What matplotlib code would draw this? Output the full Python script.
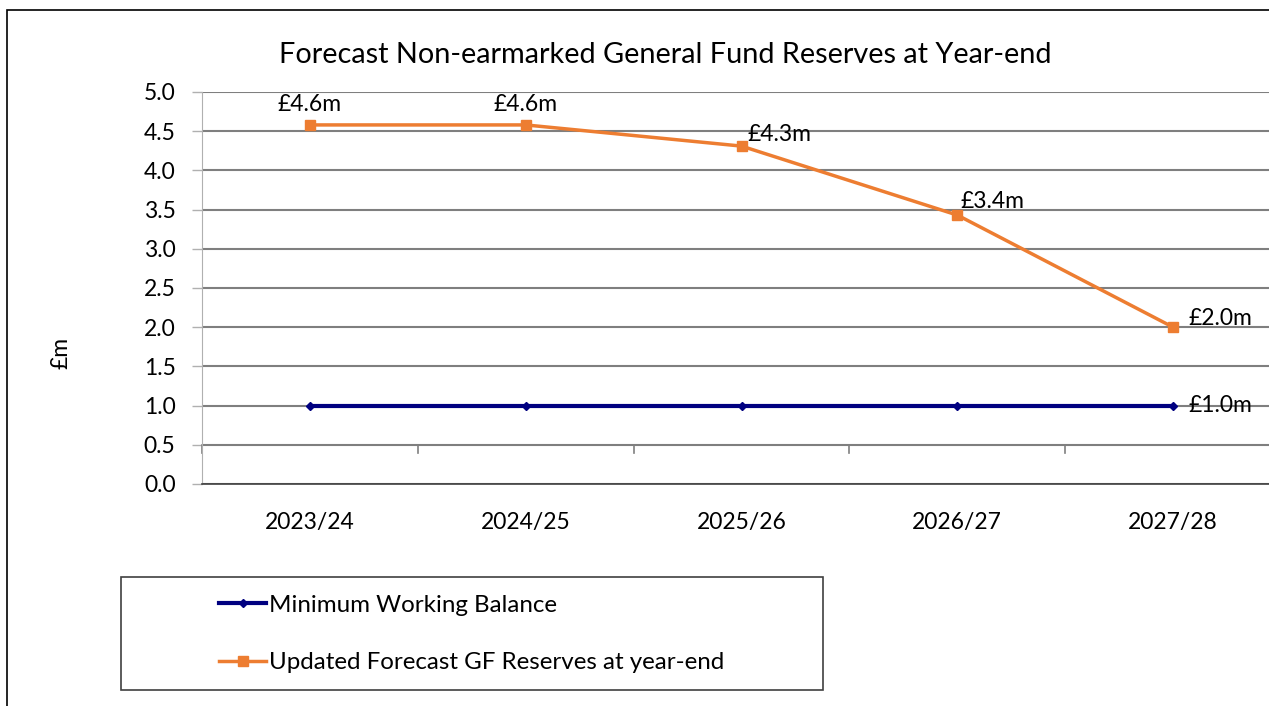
import matplotlib.pyplot as plt
import numpy as np
from matplotlib.patches import Rectangle

plt.rcParams['font.family'] = ['Lato', 'DejaVu Sans']

years = ['2023/24', '2024/25', '2025/26', '2026/27', '2027/28']
min_balance = [1.0, 1.0, 1.0, 1.0, 1.0]
reserves = [4.58, 4.58, 4.31, 3.43, 2.0]
reserve_labels = ['£4.6m', '£4.6m', '£4.3m', '£3.4m', '£2.0m']
balance_label = '£1.0m'

W, H = 1269, 706
fs = 16.5
fig = plt.figure(figsize=(W / 100, H / 100), dpi=100)

# outer chart frame (right and bottom cut off in the original)
fig.patches.append(Rectangle((7 / W, -0.1), 1.2, 1 - 10 / H + 0.1, transform=fig.transFigure,
                             fill=False, ec='black', lw=1.2))
# legend box
fig.patches.append(Rectangle((121 / W, 1 - 690 / H), (823 - 121) / W, 113 / H,
                             transform=fig.transFigure, fill=False, ec='#404040', lw=1.2))

# plot area runs past the right edge of the picture
left, right, top, bottom = 202, 1281, 92, 484
ax = fig.add_axes([left / W, 1 - bottom / H, (right - left) / W, (bottom - top) / H])

x = np.arange(len(years))
ax.set_xlim(-0.5, len(years) - 0.5)
ax.set_ylim(0, 5)
yt = np.arange(0, 5.01, 0.5)
ax.set_yticks(yt)
ax.set_yticklabels([f'{v:.1f}' for v in yt], fontsize=fs)
ax.yaxis.grid(True, color='#7f7f7f', lw=1.5)
ax.set_axisbelow(True)
ax.tick_params(axis='y', length=7, color='#b0b0b0', pad=12, width=1)
ax.set_xticks(x)
ax.set_xticklabels(years, fontsize=fs)
ax.tick_params(axis='x', length=0, pad=20)
for s in ['top', 'right']:
    ax.spines[s].set_visible(False)
ax.spines['left'].set_color('#b0b0b0')
ax.spines['bottom'].set_color('#404040')
ax.spines['bottom'].set_linewidth(1.2)

# category separator ticks hanging off the 0.5 line
for b in np.arange(-0.5, len(years) - 0.5, 1.0):
    ax.plot([b, b], [0.5, 0.4], color='#7f7f7f', lw=1.2, clip_on=False)

ax.plot(x, min_balance, color='#000080', lw=3, marker='D', ms=4.5,
        label='Minimum Working Balance', zorder=3, clip_on=False)
ax.plot(x, reserves, color='#ED7D31', lw=2.5, marker='s', ms=7.5,
        label='Updated Forecast GF Reserves at year-end', zorder=3, clip_on=False)

offsets = [(0, 7), (0, 7), (4, 1), (2, 2), (11, 0)]
for i, (v, t) in enumerate(zip(reserves, reserve_labels)):
    dx, dy = offsets[i]
    if i < 2:
        ax.annotate(t, (i, v), xytext=(dx, dy), textcoords='offset points',
                    ha='center', va='bottom', fontsize=fs)
    elif i < 4:
        ax.annotate(t, (i, v), xytext=(dx, dy), textcoords='offset points',
                    ha='left', va='bottom', fontsize=fs)
    else:
        ax.annotate(t, (i, v), xytext=(dx, dy + 6), textcoords='offset points',
                    ha='left', va='center', fontsize=fs)
ax.annotate(balance_label, (x[-1], min_balance[-1]), xytext=(11, 0), textcoords='offset points',
            ha='left', va='center', fontsize=fs)

fig.text(61 / W, 1 - 353 / H, '£m', rotation=90, ha='center', va='center', fontsize=fs)

fig.text(665 / W, 1 - 55 / H, 'Forecast Non-earmarked General Fund Reserves at Year-end',
         ha='center', va='center', fontsize=20.8)

fig.legend(loc='center left', bbox_to_anchor=(219 / W, 1 - 634 / H),
           fontsize=17.4, frameon=False, borderpad=0, labelspacing=1.5,
           handlelength=1.95, handletextpad=0.1, borderaxespad=0)

fig.savefig('out.png', dpi=100)
